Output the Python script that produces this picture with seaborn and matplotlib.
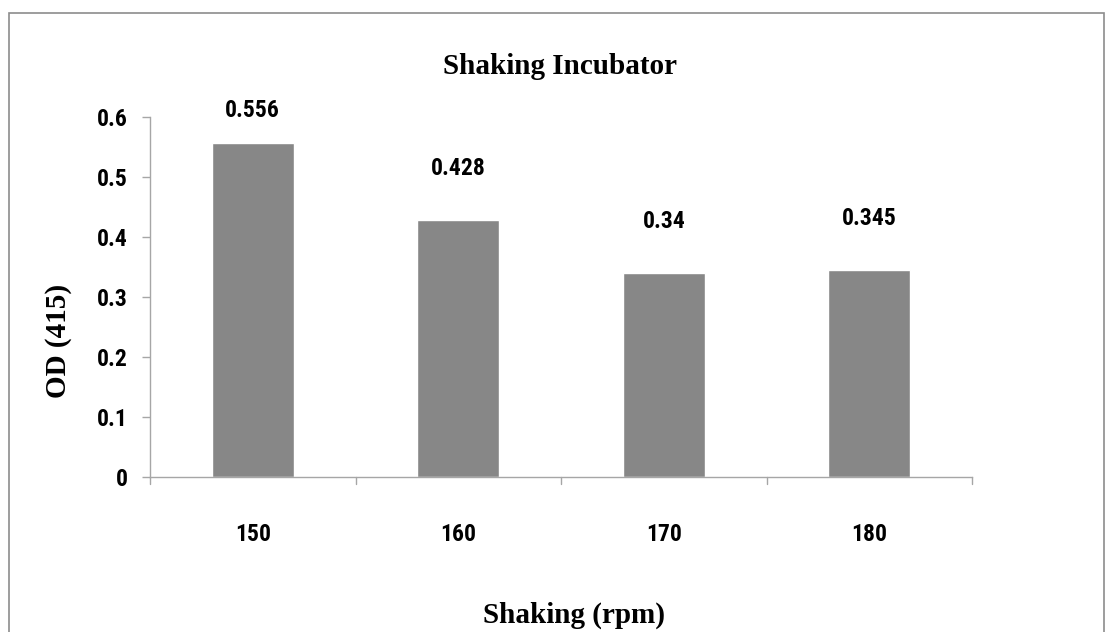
import matplotlib
matplotlib.use("Agg")
import matplotlib.pyplot as plt
import seaborn as sns
import pandas as pd
from matplotlib.patches import Rectangle

# data
speeds = ["150", "160", "170", "180"]
od_values = [0.556, 0.428, 0.34, 0.345]
y_ticks = [0, 0.1, 0.2, 0.3, 0.4, 0.5, 0.6]

df = pd.DataFrame({"speed": speeds, "od": od_values})

sns.set_theme(style="white")
NARROW = ["Roboto Condensed", "DejaVu Sans"]
SERIF = ["Liberation Serif", "DejaVu Serif"]
GREY = "#a6a6a6"

fig = plt.figure(figsize=(11.11, 6.32), dpi=100)
ax = fig.add_axes([0.135, 0.245, 0.740, 0.570])

sns.barplot(data=df, x="speed", y="od", color="#878787", width=0.4,
            saturation=1, ax=ax)

ax.set_ylim(0, 0.6)
ax.set_xlim(-0.5, len(speeds) - 0.5)
ax.set_yticks(y_ticks)
ax.set_yticklabels([f"{v:g}" for v in y_ticks], family=NARROW,
                   fontsize=17, fontweight="bold", color="black")
ax.set_xticks(range(len(speeds)))
ax.set_xticklabels(speeds, family=NARROW, fontsize=17, fontweight="bold",
                   color="black")
ax.tick_params(axis="x", length=0, pad=33)
ax.tick_params(axis="y", length=6, color=GREY, width=1, pad=10, left=True)

# category boundary ticks below the x axis
for b in [i - 0.5 for i in range(len(speeds) + 1)]:
    ax.plot([b, b], [0, -0.012], color=GREY, lw=1, clip_on=False)

for side in ["top", "right"]:
    ax.spines[side].set_visible(False)
for side in ["left", "bottom"]:
    ax.spines[side].set_color(GREY)
    ax.spines[side].set_linewidth(1)

# value labels sit a fixed gap above each bar, kept inside the chart area
for i, v in enumerate(od_values):
    ax.text(i, min(v + 0.086, 0.611), f"{v:g}", ha="center", va="center",
            family=NARROW, fontsize=17, fontweight="bold", color="black",
            clip_on=False)

ax.set_xlabel("")
ax.set_ylabel("")
fig.text(0.504, 0.895, "Shaking Incubator", ha="center", va="center",
         family=SERIF, fontsize=21, fontweight="bold", color="black")
fig.text(0.517, 0.026, "Shaking (rpm)", ha="center", va="center",
         family=SERIF, fontsize=21, fontweight="bold", color="black")
fig.text(0.053, 0.46, "OD (415)", ha="center", va="center", rotation=90,
         family=SERIF, fontsize=21, fontweight="bold", color="black")

# outer chart frame (runs off the bottom edge)
fig.patches.append(Rectangle((0.008, -0.05), 0.986, 1.029,
                             transform=fig.transFigure, fill=False,
                             edgecolor="#8c8c8c", lw=1.2, clip_on=False))

fig.savefig("out.png", dpi=100)
